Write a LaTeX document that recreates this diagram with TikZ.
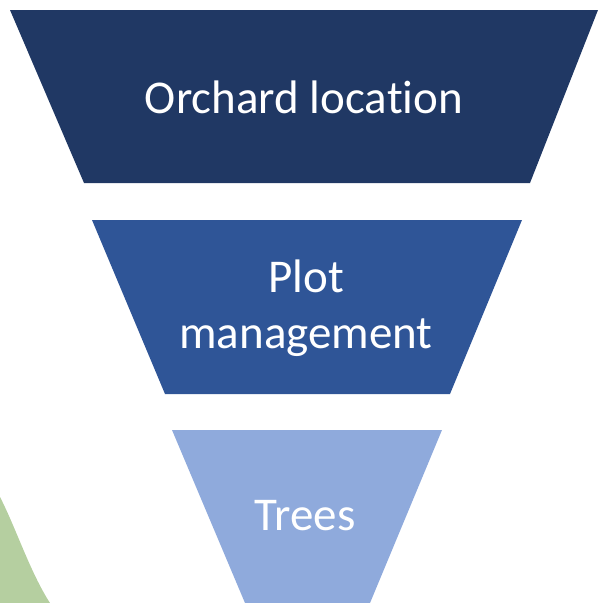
\documentclass[tikz,border=0pt]{standalone}
\usepackage{fontspec}
\setmainfont{Carlito}[Ligatures=NoCommon]
\definecolor{navy}{HTML}{203864}
\definecolor{midblue}{HTML}{2F5597}
\definecolor{paleblue}{HTML}{8FAADC}
\definecolor{leafgreen}{HTML}{B5CFA0}
\begin{document}
\begin{tikzpicture}[x=1pt,y=-1pt,
    label/.style={text=white, align=center, font=\fontsize{47}{56}\selectfont}]
        \useasboundingbox (0,0) rectangle (598,603);

        % green edge at the bottom left
        \fill[leafgreen] (0,497) .. controls (16,528) and (30,572) .. (50,603) -- (0,603) -- cycle;

        \fill[navy] (10,10) -- (598,10) -- (530,183) -- (84,183) -- cycle;
        \fill[midblue] (92,220) -- (522,220) -- (450,394) -- (165,394) -- cycle;
        \fill[paleblue] (172,430) -- (442,430) -- (370,603) -- (245,603) -- cycle;

        \node[label] (location) at (304,97) {Orchard location};
        \node[label] (plot) at (306,308) {Plot\\management};
        \node[label] (trees) at (305,516) {Trees};
\end{tikzpicture}
\end{document}
